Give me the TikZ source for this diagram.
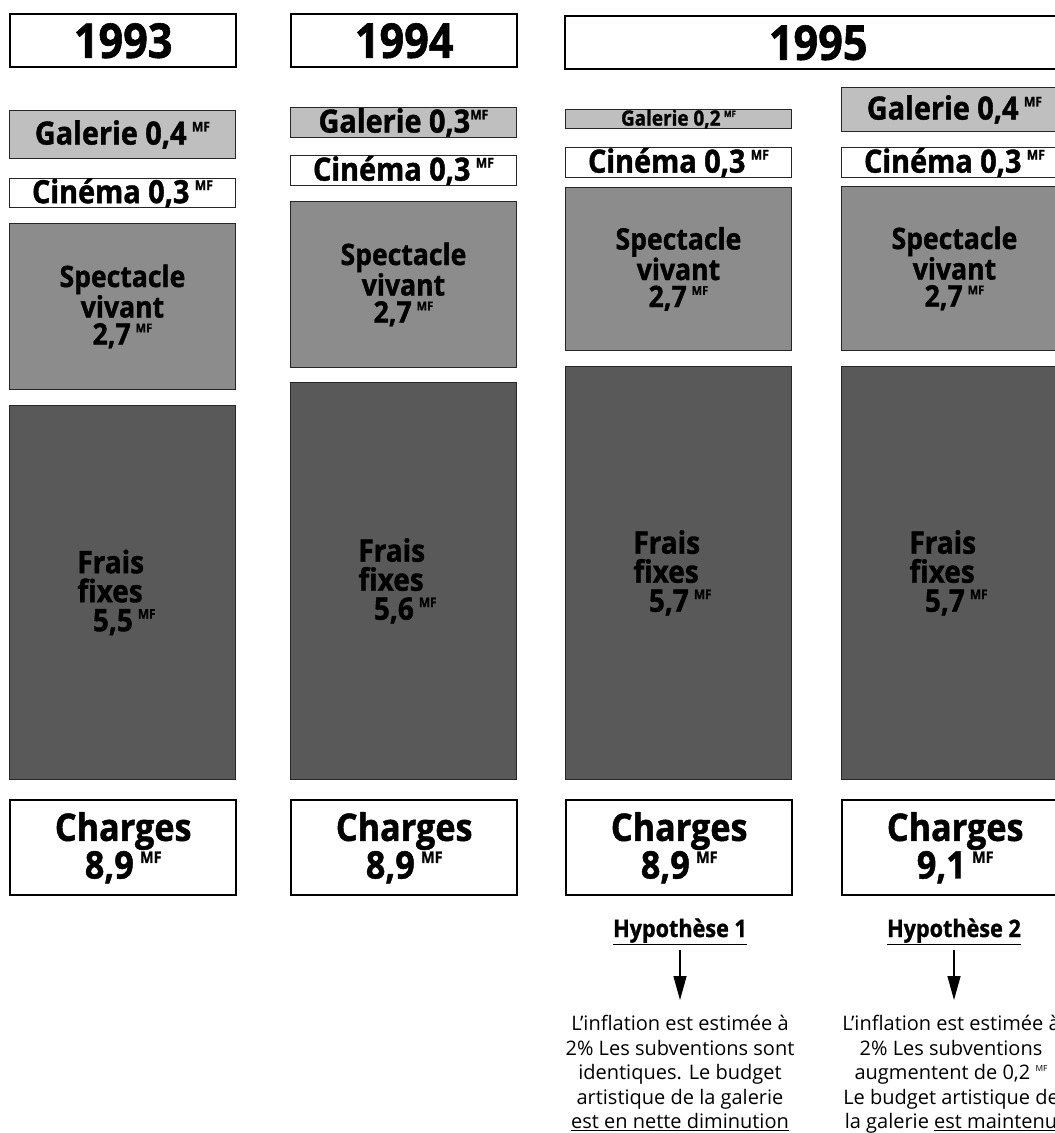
\documentclass[tikz,border=0pt]{standalone}
\usepackage{fontspec}
\usepackage{graphicx}
\setmainfont{Open Sans}[FakeStretch=0.9, BoldFeatures={FakeBold=1.2}]
\newfontfamily\bodyfont{Open Sans}
\usetikzlibrary{arrows.meta}
\newcommand\mfs{\raisebox{.41em}{\scalebox{.42}{MF}}}
\begin{document}
\begin{tikzpicture}[x=1pt,y=-1pt,
  box/.style={draw=black!85, line width=0.9pt, inner sep=0pt, anchor=north west, align=center},
  galbox/.style={box, fill=black!25},
  cinbox/.style={box, fill=white},
  specbox/.style={box, fill=black!45},
  fraisbox/.style={box, fill=black!65},
  yearbox/.style={box, draw=black, line width=2.4pt, fill=white, font=\fontsize{48}{48}\selectfont\bfseries},
  chbox/.style={box, draw=black, line width=2.4pt, fill=white, font=\fontsize{38}{34}\selectfont\bfseries},
  lab/.style={font=\fontsize{32}{32}\selectfont\bfseries},
  spec/.style={font=\fontsize{29.5}{27}\selectfont\bfseries},
  frais/.style={font=\fontsize{31}{29}\selectfont\bfseries},
  hyp/.style={inner sep=0pt, anchor=base, font=\fontsize{24}{24}\selectfont\bfseries},
  body/.style={inner sep=0pt, anchor=north, align=center, font=\bodyfont\fontsize{20}{24.5}\selectfont},
  arr/.style={line width=1.5pt, -{Triangle[width=13pt,length=24pt]}}
]
\useasboundingbox (0,0) rectangle (1055,1133);
\clip (0,0) rectangle (1055,1133);

% year headers
\node[yearbox, minimum width=226pt, minimum height=53pt] (y1) at (9,13) {1993};
\node[yearbox, minimum width=226pt, minimum height=53pt] (y2) at (290,13) {1994};
\node[yearbox, minimum width=506pt, minimum height=53pt] (y3) at (564,15) {1995};

% column 1993
\node[galbox, lab, minimum width=226pt, minimum height=48pt] (g1) at (9,110) {Galerie 0,4\,\mfs};
\node[cinbox, lab, minimum width=226pt, minimum height=29pt] (c1) at (9,178) {Cinéma 0,3\,\mfs};
\node[specbox, spec, minimum width=226pt, minimum height=166pt] (s1) at (9,223) {Spectacle\\vivant\\2,7\,\mfs};
\node[fraisbox, minimum width=226pt, minimum height=374pt] (f1) at (9,405) {};
\node[frais, align=left, inner sep=0pt] (ft1) at ([xshift=-6pt]f1.center) {Frais\\fixes\\\hspace*{.5em}5,5\,\mfs};
\node[chbox, minimum width=226pt, minimum height=95pt] (ch1) at (9,799) {Charges\\8,9\,\mfs};

% column 1994
\node[galbox, lab, minimum width=226pt, minimum height=30pt] (g2) at (290,107) {Galerie 0,3\mfs};
\node[cinbox, lab, minimum width=226pt, minimum height=30pt] (c2) at (290,155) {Cinéma 0,3\,\mfs};
\node[specbox, spec, minimum width=226pt, minimum height=166pt] (s2) at (290,201) {Spectacle\\vivant\\2,7\,\mfs};
\node[fraisbox, minimum width=226pt, minimum height=397pt] (f2) at (290,382) {};
\node[frais, align=left, inner sep=0pt] (ft2) at ([xshift=-6pt]f2.center) {Frais\\fixes\\\hspace*{.5em}5,6\,\mfs};
\node[chbox, minimum width=226pt, minimum height=95pt] (ch2) at (290,799) {Charges\\8,9\,\mfs};

% column 1995 hypothesis 1
\node[galbox, font=\fontsize{21}{21}\selectfont\bfseries, minimum width=226pt, minimum height=19pt] (g3) at (565,109) {Galerie 0,2\,\mfs};
\node[cinbox, lab, minimum width=226pt, minimum height=30pt] (c3) at (565,147) {Cinéma 0,3\,\mfs};
\node[specbox, spec, minimum width=226pt, minimum height=163pt] (s3) at (565,187) {Spectacle\\vivant\\2,7\,\mfs};
\node[fraisbox, minimum width=226pt, minimum height=413pt] (f3) at (565,366) {};
\node[frais, align=left, inner sep=0pt] (ft3) at ([xshift=-6pt]f3.center) {Frais\\fixes\\\hspace*{.5em}5,7\,\mfs};
\node[chbox, minimum width=226pt, minimum height=95pt] (ch3) at (565,799) {Charges\\8,9\,\mfs};

% column 1995 hypothesis 2
\node[galbox, lab, minimum width=226pt, minimum height=44pt] (g4) at (841,87) {Galerie 0,4\,\mfs};
\node[cinbox, lab, minimum width=226pt, minimum height=30pt] (c4) at (841,147) {Cinéma 0,3\,\mfs};
\node[specbox, spec, minimum width=226pt, minimum height=164pt] (s4) at (841,186) {Spectacle\\vivant\\2,7\,\mfs};
\node[fraisbox, minimum width=226pt, minimum height=413pt] (f4) at (841,366) {};
\node[frais, align=left, inner sep=0pt] (ft4) at ([xshift=-6pt]f4.center) {Frais\\fixes\\\hspace*{.5em}5,7\,\mfs};
\node[chbox, minimum width=226pt, minimum height=95pt] (ch4) at (841,799) {Charges\\9,1\,\mfs};

% hypotheses
\node[hyp] (h1) at (680,937) {\underline{Hypothèse 1}};
\node[hyp] (h2) at (954,937) {\underline{Hypothèse 2}};
\node[body] (t1) at (680,1015) {L’inflation est estimée à\\2\% Les subventions sont\\identiques. Le budget\\artistique de la galerie\\\underline{est en nette diminution}};
\node[body] (t2) at (951,1015) {L’inflation est estimée à\\2\% Les subventions\\augmentent de 0,2 \mfs\\Le budget artistique de\\la galerie \underline{est maintenu}};
\draw[arr, shorten <=5pt, shorten >=15pt] (h1) -- (t1);
\draw[arr, shorten <=5pt, shorten >=15pt] (h2) -- (h2 |- t2.north);
\end{tikzpicture}
\end{document}
